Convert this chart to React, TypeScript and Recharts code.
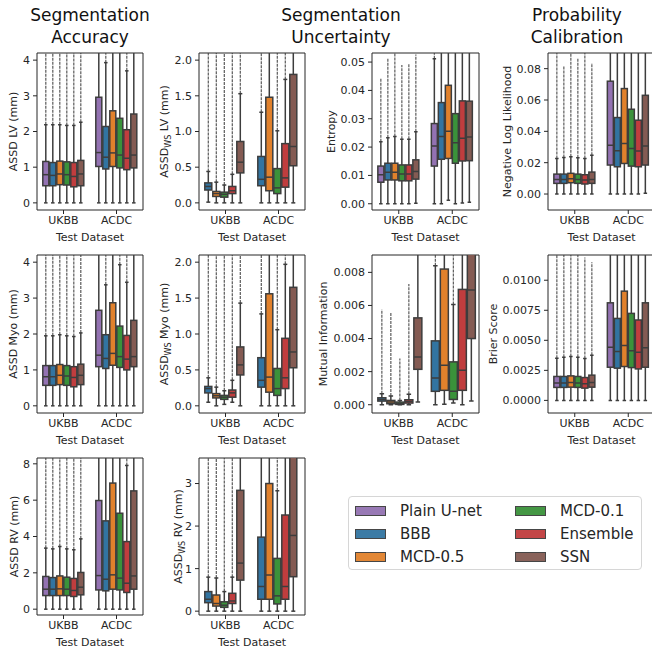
import { Bar, BarChart, ReferenceArea, XAxis, YAxis } from 'recharts'

const FONT = "'DejaVu Sans', sans-serif"
const EDGE = '#3d3d3d'
const INK = '#262626'

const categories = ['UKBB', 'ACDC']
const methods = ['Plain U-net', 'BBB', 'MCD-0.5', 'MCD-0.1', 'Ensemble', 'SSN']
const methodColors = ['#9372b2', '#3274a1', '#e1812c', '#3a923a', '#c03d3e', '#845b53']
const allMethods = [0, 1, 2, 3, 4, 5]
const noPlainMethods = [1, 2, 3, 4, 5]

// one row per method: [whisker low, Q1, median, Q3, whisker high, highest outlier]
const assdLvUkbb = [
  [0, 0.48, 0.79, 1.16, 2.19, 12], [0, 0.48, 0.77, 1.13, 2.19, 12], [0, 0.51, 0.81, 1.17, 2.19, 12],
  [0, 0.5, 0.79, 1.15, 2.17, 12], [0, 0.45, 0.74, 1.13, 2.17, 12], [0, 0.48, 0.81, 1.19, 2.26, 12],
]
const assdLvAcdc = [
  [0, 1.02, 1.41, 2.96, 5.8, 12], [0, 0.95, 1.28, 2.14, 3.93, 12], [0, 1.02, 1.4, 2.58, 4.9, 12],
  [0, 0.98, 1.34, 2.37, 4.5, 12], [0, 0.93, 1.25, 2.05, 3.7, 12], [0, 0.98, 1.34, 2.49, 4.7, 12],
]
const wsLvUkbb = [
  [0.01, 0.18, 0.23, 0.28, 0.44, 6], [0, 0.09, 0.13, 0.16, 0.29, 6], [0, 0.08, 0.12, 0.15, 0.25, 6],
  [0, 0.13, 0.17, 0.23, 0.4, 6], [0, 0.42, 0.57, 0.86, 1.53, 6],
]
const wsLvAcdc = [
  [0, 0.24, 0.33, 0.65, 1.27, 6], [0, 0.17, 0.36, 1.48, 2.9, 6], [0, 0.13, 0.21, 0.48, 1.01, 6],
  [0, 0.22, 0.35, 0.83, 1.73, 6], [0, 0.52, 0.79, 1.8, 3.4, 6],
]
const entropyUkbb = [
  [0, 0.0076, 0.0102, 0.0133, 0.0219, 0.0445], [0, 0.0084, 0.0111, 0.0143, 0.0233, 0.0512],
  [0, 0.0084, 0.0111, 0.0143, 0.0237, 0.07], [0, 0.0081, 0.0105, 0.0137, 0.0228, 0.049],
  [0, 0.0081, 0.0105, 0.0137, 0.0228, 0.0494], [0.0002, 0.0087, 0.0114, 0.0155, 0.0254, 0.0527],
]
const entropyAcdc = [
  [0, 0.0133, 0.0204, 0.0283, 0.0512, 0.09], [0, 0.0157, 0.0237, 0.0357, 0.062, 0.09],
  [0.0012, 0.016, 0.0256, 0.0418, 0.07, 0.09], [0, 0.0143, 0.0215, 0.0318, 0.058, 0.09],
  [0.0003, 0.0151, 0.0231, 0.0363, 0.065, 0.09], [0.0005, 0.0152, 0.0236, 0.0362, 0.066, 0.09],
]
const nllUkbb = [
  [0, 0.0068, 0.0093, 0.0127, 0.0227, 0.12], [0, 0.0068, 0.0093, 0.0127, 0.0233, 0.082],
  [0, 0.0072, 0.0098, 0.0132, 0.0238, 0.12], [0, 0.0068, 0.0093, 0.0127, 0.0231, 0.087],
  [0, 0.0064, 0.0089, 0.0123, 0.0227, 0.12], [0, 0.0068, 0.0093, 0.014, 0.0248, 0.0836],
]
const nllAcdc = [
  [0, 0.0185, 0.0312, 0.072, 0.15, 0.2], [0, 0.0174, 0.0276, 0.0488, 0.095, 0.2],
  [0, 0.0195, 0.0323, 0.0673, 0.14, 0.2], [0, 0.0178, 0.0291, 0.0541, 0.11, 0.2],
  [0, 0.0174, 0.0274, 0.0471, 0.092, 0.2], [0.0005, 0.0185, 0.0306, 0.063, 0.13, 0.2],
]
const assdMyoUkbb = [
  [0, 0.57, 0.81, 1.12, 1.95, 12], [0, 0.57, 0.81, 1.12, 1.95, 12], [0, 0.59, 0.85, 1.15, 1.98, 12],
  [0, 0.57, 0.83, 1.12, 1.95, 12], [0, 0.53, 0.79, 1.09, 1.93, 12], [0, 0.59, 0.85, 1.16, 2.03, 12],
]
const assdMyoAcdc = [
  [0, 1.09, 1.41, 2.66, 4.9, 12], [0, 1.04, 1.32, 1.98, 3.37, 12], [0, 1.13, 1.46, 2.87, 5.3, 12],
  [0, 1.07, 1.37, 2.22, 3.93, 12], [0, 1.0, 1.3, 1.96, 3.44, 12], [0, 1.09, 1.37, 2.38, 4.3, 12],
]
const wsMyoUkbb = [
  [0.05, 0.18, 0.24, 0.27, 0.39, 6], [0, 0.11, 0.14, 0.17, 0.26, 6], [0.02, 0.09, 0.12, 0.145, 0.21, 6],
  [0.05, 0.12, 0.18, 0.22, 0.355, 6], [0, 0.43, 0.57, 0.82, 1.43, 6],
]
const wsMyoAcdc = [
  [0, 0.26, 0.355, 0.67, 1.28, 6], [0, 0.19, 0.4, 1.56, 3.2, 6], [0, 0.145, 0.24, 0.52, 1.06, 6],
  [0, 0.24, 0.39, 0.94, 1.97, 6], [0, 0.53, 0.75, 1.65, 3.3, 6],
]
const miUkbb = [
  [0, 0.00022, 0.00032, 0.00042, 0.00067, 0.00576], [0, 0.00006, 0.00016, 0.00026, 0.00053, 0.0056],
  [0, 0.00002, 0.00006, 0.00016, 0.00026, 0.0028], [0, 0.0001, 0.0002, 0.0003, 0.00063, 0.0073],
  [0.00016, 0.00214, 0.00289, 0.00525, 0.0099, 0.02],
]
const miAcdc = [
  [0, 0.00081, 0.00162, 0.00386, 0.0084, 0.02], [0.00003, 0.00087, 0.00238, 0.0082, 0.018, 0.02],
  [0.0001, 0.00032, 0.00081, 0.00259, 0.00606, 0.02], [0, 0.00087, 0.00208, 0.00697, 0.0155, 0.02],
  [0.00022, 0.004, 0.00693, 0.0125, 0.025, 0.03],
]
const brierUkbb = [
  [0, 0.00108, 0.00144, 0.00199, 0.00351, 0.02], [0, 0.00108, 0.00144, 0.00199, 0.00359, 0.02],
  [0, 0.0011, 0.00149, 0.00204, 0.00365, 0.02], [0, 0.00108, 0.00144, 0.00199, 0.00359, 0.02],
  [0, 0.00102, 0.00138, 0.0019, 0.00348, 0.0119], [0, 0.0011, 0.00149, 0.0021, 0.00376, 0.0115],
]
const brierAcdc = [
  [0, 0.00276, 0.00442, 0.00812, 0.016, 0.03], [0, 0.00268, 0.00406, 0.00682, 0.013, 0.03],
  [0, 0.00282, 0.00456, 0.00909, 0.018, 0.03], [0, 0.00273, 0.00414, 0.00724, 0.014, 0.03],
  [0, 0.00262, 0.004, 0.00669, 0.0128, 0.03], [0, 0.00276, 0.00439, 0.00812, 0.016, 0.03],
]
const assdRvUkbb = [
  [0, 0.75, 1.1, 1.8, 3.36, 20], [0, 0.75, 1.1, 1.74, 3.32, 20], [0, 0.75, 1.12, 1.83, 3.45, 20],
  [0, 0.75, 1.1, 1.76, 3.32, 20], [0, 0.7, 1.03, 1.69, 3.27, 20], [0, 0.79, 1.21, 2.02, 3.87, 20],
]
const assdRvAcdc = [
  [0, 1.06, 1.85, 5.98, 12, 20], [0, 1.01, 1.65, 4.86, 10, 20], [0, 1.1, 1.89, 6.94, 14, 20],
  [0, 1.06, 1.71, 5.28, 11, 20], [0, 0.92, 1.43, 3.72, 7.91, 20], [0, 1.1, 1.83, 6.51, 13, 20],
]
const wsRvUkbb = [
  [0, 0.2, 0.28, 0.46, 0.8, 10], [0, 0.12, 0.18, 0.38, 0.78, 10], [0, 0.09, 0.14, 0.22, 0.46, 10],
  [0, 0.18, 0.24, 0.42, 0.8, 10], [0, 0.73, 1.13, 2.84, 5.5, 10],
]
const wsRvAcdc = [
  [0, 0.28, 0.58, 1.74, 3.9, 10], [0, 0.28, 0.85, 3.0, 6.5, 10], [0, 0.17, 0.36, 1.24, 2.83, 10],
  [0, 0.28, 0.58, 2.26, 5.0, 10], [0, 0.81, 1.78, 3.7, 8, 10],
]

const assdTicks = [0, 1, 2, 3, 4]
const wsTicks = [0, 0.5, 1, 1.5, 2]
const entropyTicks = [0, 0.01, 0.02, 0.03, 0.04, 0.05]
const nllTicks = [0, 0.02, 0.04, 0.06, 0.08]
const miTicks = [0, 0.002, 0.004, 0.006, 0.008]
const brierTicks = [0, 0.0025, 0.005, 0.0075, 0.01]
const rvTicks = [0, 2, 4, 6, 8]
const wsRvTicks = [0, 1, 2, 3]

const titles = [
  { lines: ['Segmentation', 'Accuracy'], cx: 90 },
  { lines: ['Segmentation', 'Uncertainty'], cx: 341 },
  { lines: ['Probability', 'Calibration'], cx: 577 },
]

// frame boxes in page pixels; yw = room left of the frame for ticks + label
const rows = [{ y: 53, h: 157 }, { y: 255, h: 158 }, { y: 458, h: 157 }]
const cols = [{ x: 37, w: 106, yw: 36 }, { x: 199, w: 106, yw: 50 }, { x: 372, w: 107, yw: 60 }, { x: 548, w: 107, yw: 60 }]

const panels = [
  { r: 0, c: 0, label: 'ASSD LV (mm)', lx: 13, ukbb: assdLvUkbb, acdc: assdLvAcdc, ms: allMethods, domain: [-0.2, 4.2], ticks: assdTicks, dec: 0 },
  { r: 0, c: 1, label: ' LV (mm)', ws: true, lx: 164, ukbb: wsLvUkbb, acdc: wsLvAcdc, ms: noPlainMethods, domain: [-0.1, 2.1], ticks: wsTicks, dec: 1 },
  { r: 0, c: 2, label: 'Entropy', lx: 331, ukbb: entropyUkbb, acdc: entropyAcdc, ms: allMethods, domain: [-0.0022, 0.0532], ticks: entropyTicks, dec: 2 },
  { r: 0, c: 3, label: 'Negative Log Likelihood', lx: 507, ukbb: nllUkbb, acdc: nllAcdc, ms: allMethods, domain: [-0.0102, 0.09], ticks: nllTicks, dec: 2 },
  { r: 1, c: 0, label: 'ASSD Myo (mm)', lx: 13, ukbb: assdMyoUkbb, acdc: assdMyoAcdc, ms: allMethods, domain: [-0.2, 4.2], ticks: assdTicks, dec: 0 },
  { r: 1, c: 1, label: ' Myo (mm)', ws: true, lx: 164, ukbb: wsMyoUkbb, acdc: wsMyoAcdc, ms: noPlainMethods, domain: [-0.1, 2.1], ticks: wsTicks, dec: 1 },
  { r: 1, c: 2, label: 'Mutual Information', lx: 323, ukbb: miUkbb, acdc: miAcdc, ms: noPlainMethods, domain: [-0.0005, 0.00905], ticks: miTicks, dec: 3 },
  { r: 1, c: 3, label: 'Brier Score', lx: 493, ukbb: brierUkbb, acdc: brierAcdc, ms: allMethods, domain: [-0.00105, 0.0121], ticks: brierTicks, dec: 4 },
  { r: 2, c: 0, label: 'ASSD RV (mm)', lx: 14, ukbb: assdRvUkbb, acdc: assdRvAcdc, ms: allMethods, domain: [-0.32, 8.32], ticks: rvTicks, dec: 0 },
  { r: 2, c: 1, label: ' RV (mm)', ws: true, lx: 178, ukbb: wsRvUkbb, acdc: wsRvAcdc, ms: noPlainMethods, domain: [-0.09, 3.6], ticks: wsRvTicks, dec: 0 },
]

// bar gets [low, top outlier] as a range; the rest is placed inside that pixel span
function BoxShape(props: any) {
  const { x, y, width, height, fill, payload, idx } = props
  const s = payload.stats[idx]
  const yb = Math.max(y, y + height)
  const yt = Math.min(y, y + height)
  const py = (v: number) => yb - ((v - s[0]) / (s[5] - s[0])) * (yb - yt)
  const cx = x + width / 2
  const bx = x + 0.5
  const bw = width - 1
  const cap = width / 4
  const st = { stroke: EDGE, strokeWidth: 1.5 }
  return (
    <g>
      {s[5] > s[4] && (
        <line x1={cx} x2={cx} y1={py(s[4])} y2={py(s[5])} stroke={EDGE} strokeWidth={1.2} strokeDasharray="3 1" strokeOpacity={0.85} />
      )}
      <line x1={cx} x2={cx} y1={py(s[0])} y2={py(s[1])} {...st} />
      <line x1={cx} x2={cx} y1={py(s[3])} y2={py(s[4])} {...st} />
      <line x1={cx - cap} x2={cx + cap} y1={py(s[0])} y2={py(s[0])} {...st} />
      <line x1={cx - cap} x2={cx + cap} y1={py(s[4])} y2={py(s[4])} {...st} />
      <rect x={bx} y={py(s[3])} width={bw} height={py(s[1]) - py(s[3])} fill={fill} {...st} />
      <line x1={bx} x2={bx + bw} y1={py(s[2])} y2={py(s[2])} {...st} />
    </g>
  )
}

function Panel({ p }: { p: any }) {
  const row = rows[p.r]
  const col = cols[p.c]
  const left = col.x - col.yw
  const top = row.y - 5
  const data = categories.map((c, i) => ({ cat: c, stats: i === 0 ? p.ukbb : p.acdc }))
  const tick = { fontSize: 11, fill: INK, fontFamily: FONT }

  const yLabel = (lp: any) => {
    const vb = lp.viewBox
    const x = p.lx - left
    const cy = vb.y + vb.height / 2
    return (
      <text x={x} y={cy} dy="0.35em" transform={`rotate(-90 ${x} ${cy})`} textAnchor="middle"
        fontSize={11} fill={INK} fontFamily={FONT}>
        {p.ws ? (
          <>
            ASSD<tspan fontSize={8} dy={3}>WS</tspan>
            <tspan dy={-3}>{p.label}</tspan>
          </>
        ) : p.label}
      </text>
    )
  }
  const xLabel = (lp: any) => {
    const vb = lp.viewBox
    return (
      <text x={vb.x + vb.width / 2} y={vb.y + 31} textAnchor="middle" fontSize={11} fill={INK} fontFamily={FONT}>
        Test Dataset
      </text>
    )
  }

  return (
    <div style={{ position: 'absolute', left, top }}>
      <BarChart width={col.yw + col.w + 5} height={5 + row.h + 40} data={data}
        margin={{ top: 5, right: 5, bottom: 0, left: 0 }} barCategoryGap="10%" barGap={0}>
        <XAxis dataKey="cat" height={40} tickSize={4} tickMargin={2} tick={tick} stroke={INK}
          axisLine={false} label={{ content: xLabel }} />
        <YAxis type="number" width={col.yw} domain={p.domain} allowDataOverflow ticks={p.ticks} interval={0}
          tickFormatter={(v: number) => v.toFixed(p.dec)} tickSize={4} tickMargin={3} tick={tick} stroke={INK}
          axisLine={false} label={{ content: yLabel }} />
        {p.ms.map((m: number, j: number) => (
          <Bar key={m} name={methods[m]} dataKey={(r: any) => [r.stats[j][0], r.stats[j][5]]}
            fill={methodColors[m]} isAnimationActive={false}
            shape={(sp: any) => <BoxShape {...sp} idx={j} />} />
        ))}
        <ReferenceArea y1={p.domain[0]} y2={p.domain[1]} fill="none" stroke={INK} strokeWidth={1} fillOpacity={0} />
      </BarChart>
    </div>
  )
}

function Legend() {
  return (
    <div style={{ position: 'absolute', left: 348, top: 496, width: 294, height: 74, border: '1px solid #d6d6d6', borderRadius: 4, boxSizing: 'border-box' }}>
      {methods.map((m, i) => {
        const c = Math.floor(i / 3)
        const r = i % 3
        return (
          <div key={m} style={{ position: 'absolute', left: 6 + c * 160, top: 6 + r * 23, height: 16, display: 'flex', alignItems: 'center' }}>
            <span style={{ width: 31, height: 10, background: methodColors[i], border: `1px solid ${EDGE}`, boxSizing: 'border-box', opacity: 0.95 }} />
            <span style={{ marginLeft: 14, fontSize: 15, color: INK, lineHeight: '16px' }}>{m}</span>
          </div>
        )
      })}
    </div>
  )
}

export default function App() {
  return (
    <div style={{ position: 'absolute', left: 0, top: 0, width: 652, height: 652, overflow: 'hidden', background: '#fff', fontFamily: FONT }}>
      {titles.map((t) => (
        <div key={t.cx} style={{ position: 'absolute', left: t.cx - 100, top: 4, width: 200, textAlign: 'center', fontSize: 17, lineHeight: '22px', color: '#111' }}>
          {t.lines[0]}<br />{t.lines[1]}
        </div>
      ))}
      {panels.map((p, i) => <Panel key={i} p={p} />)}
      <Legend />
    </div>
  )
}
